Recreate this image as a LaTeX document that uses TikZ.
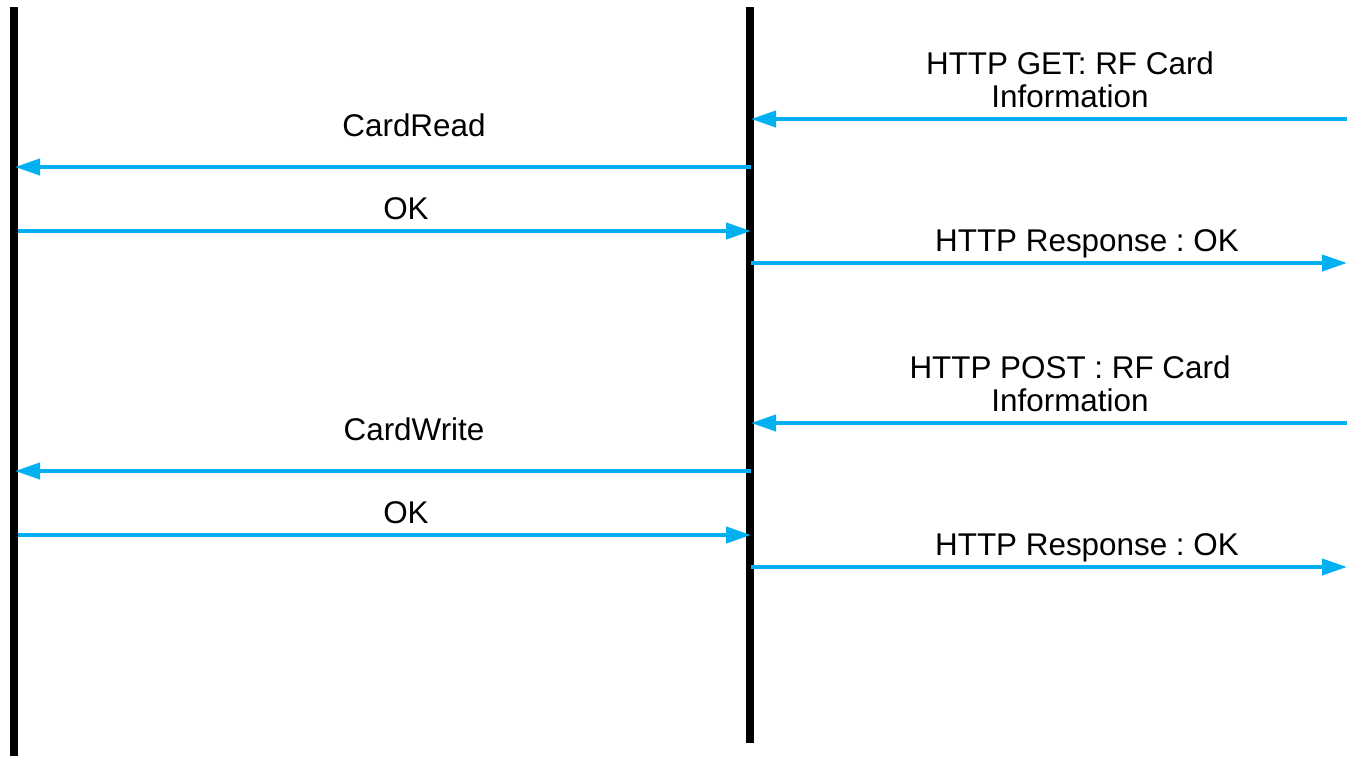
\documentclass[tikz,border=0pt]{standalone}
\usepackage{fontspec}
\setmainfont{Liberation Sans}
\usetikzlibrary{arrows.meta}
\definecolor{msgcyan}{HTML}{00B0F0}
\tikzset{
  lifeline/.style={line width=8pt, black},
  msg/.style={line width=4pt, msgcyan, -{Triangle[length=25pt,width=16pt]}},
  lbl/.style={anchor=base, inner sep=0pt, font=\fontsize{31.4}{33}\selectfont\frenchspacing}
}
\begin{document}
\begin{tikzpicture}[x=1pt,y=-1pt]
\useasboundingbox (0,0) rectangle (1347,756);
% lifelines
\coordinate (Atop) at (14,7);
\coordinate (Abot) at (14,756);
\coordinate (Btop) at (750,7);
\coordinate (Bbot) at (750,743);
\draw[lifeline] (Atop) -- (Abot);
\draw[lifeline] (Btop) -- (Bbot);
% message end points
\foreach \k/\y in {1/119,2/167,3/231,4/263,5/423,6/471,7/535,8/567}{
  \coordinate (A\k) at (15,\y);
  \coordinate (As\k) at (18,\y);
  \coordinate (B\k) at (751,\y);
  \coordinate (C\k) at (1347,\y);
}
% messages
\draw[msg] (C1) -- (B1);
\draw[msg] (B2) -- (A2);
\draw[msg] (As3) -- (B3);
\draw[msg] (B4) -- (C4);
\draw[msg] (C5) -- (B5);
\draw[msg] (B6) -- (A6);
\draw[msg] (As7) -- (B7);
\draw[msg] (B8) -- (C8);
% labels
\node[lbl] (t1a) at (1070,74) {HTTP GET: RF Card};
\node[lbl] (t1b) at (1070,107) {Information};
\node[lbl] (t2) at (414,136) {CardRead};
\node[lbl] (t3) at (406,219) {OK};
\node[lbl] (t4) at (1087,251) {HTTP Response : OK};
\node[lbl] (t5a) at (1070,378) {HTTP POST : RF Card};
\node[lbl] (t5b) at (1070,411) {Information};
\node[lbl] (t6) at (414,440) {CardWrite};
\node[lbl] (t7) at (406,523) {OK};
\node[lbl] (t8) at (1087,555) {HTTP Response : OK};
\end{tikzpicture}
\end{document}
